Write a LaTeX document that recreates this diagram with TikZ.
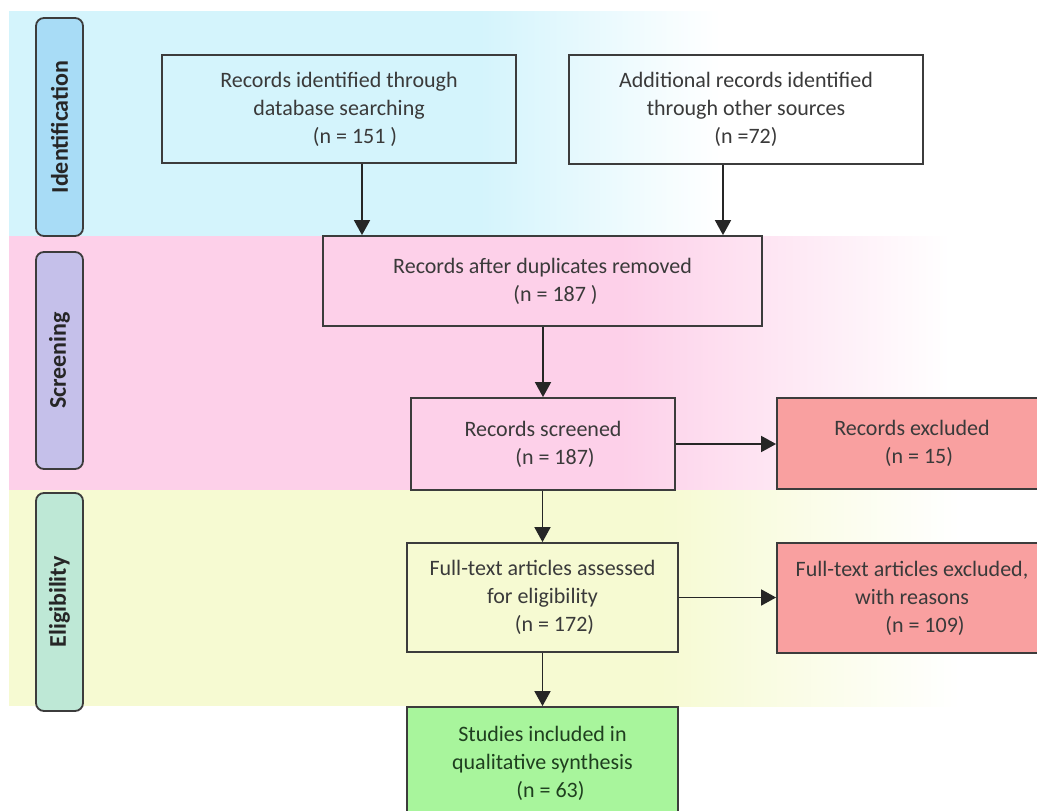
\documentclass[tikz,border=0pt]{standalone}
\usepackage{fontspec}
\setmainfont{Carlito}
\usetikzlibrary{arrows.meta}
\definecolor{cyanband}{HTML}{D4F4FC}
\definecolor{pinkband}{HTML}{FDD0E9}
\definecolor{yellowband}{HTML}{F6FAD2}
\definecolor{idside}{HTML}{A8DCF6}
\definecolor{scside}{HTML}{C5C0EA}
\definecolor{elside}{HTML}{BEE8D6}
\definecolor{redbox}{HTML}{F9A0A0}
\definecolor{greenbox}{HTML}{A8F59C}
\definecolor{edge}{HTML}{3C3C3C}
\definecolor{txt}{HTML}{3A3A3A}
\definecolor{gtxt}{HTML}{1F3F1F}
\tikzset{
  flowbox/.style={draw=edge, line width=1.8pt, align=center, text=txt,
    font=\fontsize{22}{28}\selectfont, inner sep=0pt},
  sidebox/.style={draw=edge, line width=1.8pt, rounded corners=8pt,
    minimum width=47pt, minimum height=#1, inner sep=0pt},
  sidelabel/.style={rotate=90, font=\bfseries\fontsize{24}{26}\selectfont, text=black!85},
  arr/.style={draw=black!85, line width=1.8pt, -{Triangle[length=15pt,width=16pt]}}
}
\begin{document}
\begin{tikzpicture}[x=1pt,y=-1pt]
\clip (0,0) rectangle (1037,811);
\fill[white] (0,0) rectangle (1037,811);
% bands
\fill[cyanband] (9,11) rectangle (480,236);
\shade[left color=cyanband, right color=white] (480,11) rectangle (720,236);
\fill[pinkband] (9,236) rectangle (620,490);
\shade[left color=pinkband, right color=white] (620,236) rectangle (950,490);
\fill[yellowband] (9,490) rectangle (660,706);
\shade[left color=yellowband, right color=white] (660,490) rectangle (960,706);
% side boxes
\node[sidebox=218pt, fill=idside] (sid) at (59.5,127) {};
\node[sidelabel] (lid) at (sid.center) {Identification};
\node[sidebox=217pt, fill=scside] (ssc) at (59.5,360.5) {};
\node[sidelabel] (lsc) at (ssc.center) {Screening};
\node[sidebox=218pt, fill=elside] (sel) at (59.5,602) {};
\node[sidelabel] (lel) at (sel.center) {Eligibility};
% flow boxes
\node[flowbox, minimum width=354pt, minimum height=108pt] (b1) at (339,109)
  {Records identified through\\database searching\\\hspace*{32pt}(n = 151 )};
\node[flowbox, minimum width=354pt, minimum height=109pt] (b2) at (746,109.5)
  {Additional records identified\\through other sources\\(n =72)};
\node[flowbox, minimum width=439pt, minimum height=90pt] (b3) at (542.5,281)
  {Records after duplicates removed\\\hspace*{26pt}(n = 187 )};
\node[flowbox, minimum width=264pt, minimum height=92pt] (b4) at (543,444)
  {Records screened\\\hspace*{24pt}(n = 187)};
\node[flowbox, fill=redbox, minimum width=270pt, minimum height=91pt] (r1) at (912,443.5)
  {Records excluded\\\hspace*{14pt}(n = 15)};
\node[flowbox, minimum width=271pt, minimum height=109pt] (b5) at (542.5,597.5)
  {Full-text articles assessed\\for eligibility\\\hspace*{24pt}(n = 172)};
\node[flowbox, fill=redbox, minimum width=270pt, minimum height=110pt] (r2) at (912,598)
  {Full-text articles excluded,\\with reasons\\\hspace*{26pt}(n = 109)};
\node[flowbox, fill=greenbox, text=gtxt, minimum width=271pt, minimum height=112pt] (g) at (542.5,763)
  {Studies included in\\qualitative synthesis\\\hspace*{16pt}(n = 63)};
% connectors
\coordinate (c1) at (362,0);
\coordinate (c2) at (723,0);
\draw[arr] (b1.south -| c1) -- (b3.north -| c1);
\draw[arr] (b2.south -| c2) -- (b3.north -| c2);
\draw[arr] (b3.south -| b4.north) -- (b4.north);
\draw[arr] (b4.east) -- (r1.west |- b4.east);
\draw[arr] (b4.south -| b5.north) -- (b5.north);
\draw[arr] (b5.east) -- (r2.west |- b5.east);
\draw[arr] (b5.south) -- (g.north);
\end{tikzpicture}
\end{document}
